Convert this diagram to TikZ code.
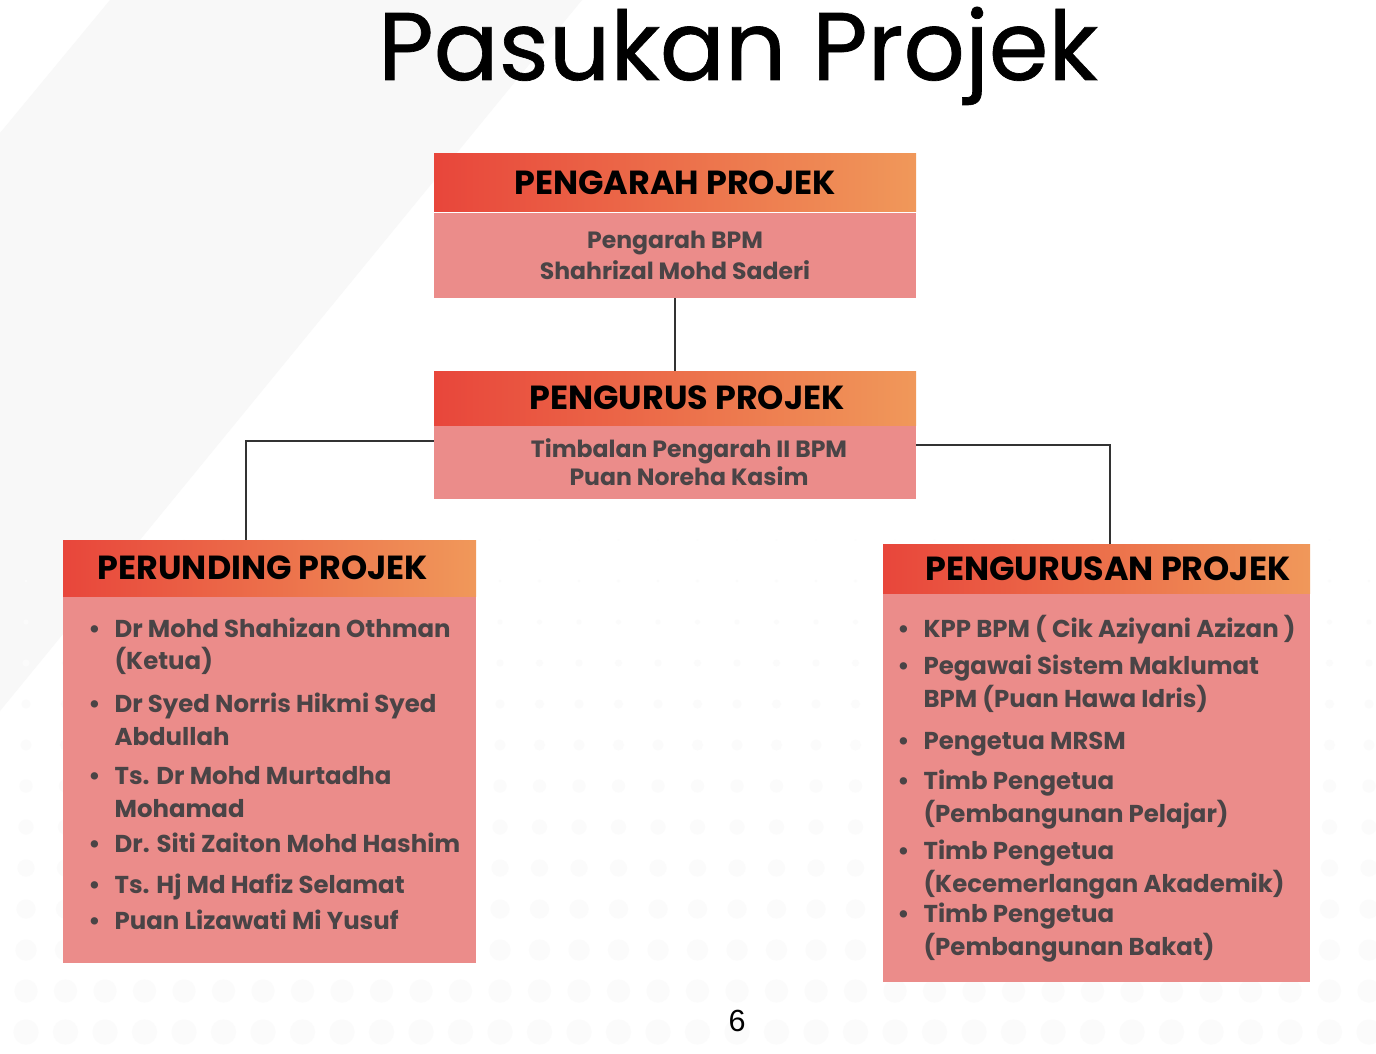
\documentclass[tikz,border=0pt]{standalone}
\usepackage{fontspec}
\setmainfont{Poppins}
\newfontfamily\titlefont[FakeBold=0.7]{Poppins}
\newfontfamily\numfont{Liberation Sans}
\usetikzlibrary{positioning}

\definecolor{hdred}{HTML}{E8463B}
\definecolor{hdorange}{HTML}{F0985A}
\definecolor{bodypink}{HTML}{EB8C8A}
\definecolor{bodytext}{HTML}{4A4446}
\definecolor{bandgray}{HTML}{F8F8F8}
\definecolor{dotgray}{HTML}{FBFBFB}

\begin{document}
\begin{tikzpicture}[x=0.02cm, y=-0.02cm,
      head/.style={inner sep=0pt, left color=hdred, right color=hdorange,
                   font=\bfseries\fontsize{19}{22}\selectfont},
      body/.style={inner sep=0pt, fill=bodypink, text=bodytext, align=center,
                   font=\bfseries\fontsize{13.4}{17.6}\selectfont},
      list/.style={anchor=base west, inner sep=0pt, text=bodytext,
                   font=\bfseries\fontsize{13.9}{18.7}\selectfont},
      link/.style={line width=1.1pt, draw=black!80}]

    \def\px{0.02cm}  % one pixel of the slide

    \useasboundingbox (0,0) rectangle (1376,1054);
    \fill[white] (0,0) rectangle (1376,1054);

    % Background band and dot grid
    \fill[bandgray] (110,0) -- (582,0) -- (0,711) -- (0,133) -- cycle;
    \foreach \j in {0,...,12}
      \foreach \k in {0,...,34} {
        \pgfmathsetmacro{\r}{0.6+\j}
        \fill[dotgray] (26+39.5*\k, 540+41*\j) circle[radius=\r*\px];
      }

    \node[font=\titlefont\fontsize{54.7}{60}\selectfont, anchor=base] (title) at (738,80) {Pasukan Projek};

    % Top two boxes
    \node[head, minimum width=482*\px, minimum height=58*\px] (hdA) at (675,183) {PENGARAH PROJEK};
    \node[body, minimum width=482*\px, minimum height=85*\px, below=0pt of hdA] (bdA)
        {Pengarah BPM\\Shahrizal Mohd Saderi};

    \node[head, minimum width=482*\px, minimum height=54*\px] (hdB) at (675,398)
        {\hspace*{0.48cm}PENGURUS PROJEK};
    \node[body, minimum width=482*\px, minimum height=73*\px, below=0pt of hdB,
          font=\bfseries\fontsize{13.4}{16.4}\selectfont] (bdB)
        {\hspace*{0.56cm}Timbalan Pengarah II BPM\\\hspace*{0.56cm}Puan Noreha Kasim};

    % Lower boxes
    \node[head, minimum width=413*\px, minimum height=56*\px] (hdC) at (269.5,568)
        {PERUNDING PROJEK\hspace*{0.26cm}};
    \node[body, minimum width=413*\px, minimum height=366*\px, below=0pt of hdC] (bdC) {};

    \node[head, minimum width=427*\px, minimum height=49*\px] (hdD) at (1096.5,568.5)
        {\hspace*{0.46cm}PENGURUSAN PROJEK};
    \node[body, minimum width=427*\px, minimum height=388*\px, below=0pt of hdD] (bdD) {};

    % Member lists
    \node[list] (lsC) at (88,637) {\begin{tabular}[t]{@{}l@{\hspace{0.28cm}}l@{}}
        \textbullet & Dr Mohd Shahizan Othman\\
                    & (Ketua)\\[5.7pt]
        \textbullet & Dr Syed Norris Hikmi Syed\\
                    & Abdullah\\[3.4pt]
        \textbullet & Ts. Dr Mohd Murtadha\\
                    & Mohamad\\[1.1pt]
        \textbullet & Dr. Siti Zaiton Mohd Hashim\\[5.1pt]
        \textbullet & Ts. Hj Md Hafiz Selamat\\[1.7pt]
        \textbullet & Puan Lizawati Mi Yusuf
      \end{tabular}};

    \node[list] (lsD) at (897,637) {\begin{tabular}[t]{@{}l@{\hspace{0.28cm}}l@{}}
        \textbullet & KPP BPM ( Cik Aziyani Azizan )\\[2.8pt]
        \textbullet & Pegawai Sistem Maklumat\\
                    & BPM (Puan Hawa Idris)\\[5.1pt]
        \textbullet & Pengetua MRSM\\[4pt]
        \textbullet & Timb Pengetua\\
                    & (Pembangunan Pelajar)\\[2.8pt]
        \textbullet & Timb Pengetua\\
                    & (Kecemerlangan Akademik)\\[-1.7pt]
        \textbullet & Timb Pengetua\\
                    & (Pembangunan Bakat)
      \end{tabular}};

    % Connectors
    \coordinate (jL) at (246,441);
    \coordinate (jR) at (1110,445);
    \draw[link] (bdA) -- (hdB);
    \draw[link] (bdB.west |- jL) -- (jL) -- (jL |- hdC.north);
    \draw[link] (bdB.east |- jR) -- (jR) -- (jR |- hdD.north);

    \node[font=\numfont\fontsize{17.4}{20}\selectfont, anchor=base] (pnum) at (737,1031) {6};

\end{tikzpicture}
\end{document}
